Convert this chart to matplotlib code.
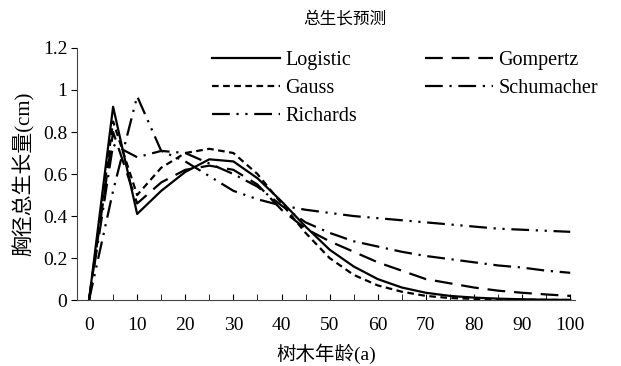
import matplotlib.pyplot as plt
from matplotlib.ticker import MultipleLocator

plt.rcParams['font.family'] = ['Liberation Serif', 'Noto Sans CJK SC']

# tree age (a), 5-year steps
age = [0, 5, 10, 15, 20, 25, 30, 35, 40, 45, 50, 55, 60, 65, 70, 75, 80, 85, 90, 95, 100]

logistic = [0, 0.92, 0.41, 0.52, 0.61, 0.67, 0.66, 0.58, 0.47, 0.35, 0.24, 0.16, 0.10, 0.06,
            0.035, 0.02, 0.012, 0.007, 0.004, 0.002, 0.001]
gompertz = [0, 0.80, 0.46, 0.56, 0.62, 0.64, 0.62, 0.55, 0.43, 0.34, 0.28, 0.23, 0.18, 0.14,
            0.10, 0.08, 0.06, 0.045, 0.035, 0.027, 0.02]
gauss = [0, 0.85, 0.50, 0.63, 0.70, 0.72, 0.70, 0.60, 0.46, 0.32, 0.20, 0.12, 0.07, 0.04,
         0.02, 0.01, 0.006, 0.003, 0.002, 0.001, 0.0005]
schumacher = [0, 0.74, 0.68, 0.71, 0.70, 0.65, 0.60, 0.54, 0.45, 0.37, 0.32, 0.28, 0.255, 0.23,
              0.21, 0.195, 0.18, 0.165, 0.155, 0.14, 0.13]
richards = [0, 0.52, 0.97, 0.71, 0.66, 0.59, 0.52, 0.48, 0.45, 0.43, 0.415, 0.40, 0.39, 0.38,
            0.37, 0.36, 0.35, 0.34, 0.335, 0.33, 0.325]

series = [
    ("Logistic", logistic, '-'),
    ("Gauss", gauss, (0, (3, 2))),
    ("Richards", richards, (0, (8, 3, 1, 3, 1, 3))),
    ("Gompertz", gompertz, (0, (8, 4))),
    ("Schumacher", schumacher, (0, (8, 3, 1, 3))),
]

fig = plt.figure(figsize=(6.21, 3.66), dpi=100)
ax = fig.add_axes([0.124, 0.180, 0.802, 0.689])

for name, vals, ls in series:
    ax.plot(age, vals, color='black', linestyle=ls, linewidth=1.6, label=name)

ax.set_xlim(-2.5, 101)
ax.set_ylim(0, 1.2)
ax.xaxis.set_major_locator(MultipleLocator(10))
ax.xaxis.set_minor_locator(MultipleLocator(5))
ax.set_yticks([0, 0.2, 0.4, 0.6, 0.8, 1.0, 1.2])
ax.set_yticklabels(['0', '0.2', '0.4', '0.6', '0.8', '1', '1.2'])
ax.tick_params(axis='x', which='both', direction='in', length=4, labelsize=14, pad=12)
ax.tick_params(axis='y', direction='out', length=4, labelsize=14, pad=3)
for s in ['top', 'right']:
    ax.spines[s].set_visible(False)
for s in ['left', 'bottom']:
    ax.spines[s].set_color('#444444')

ax.set_xlabel('树木年龄(a)', fontsize=14, labelpad=7)
ax.set_ylabel('胸径总生长量(cm)', fontsize=15, labelpad=6)
fig.text(0.555, 0.948, '总生长预测', ha='center', va='center', fontsize=12)

ax.legend(ncol=2, frameon=False, loc='upper left', bbox_to_anchor=(0.271, 0.99),
          borderpad=0, borderaxespad=0,
          handlelength=3.4, handletextpad=0.25, columnspacing=3.35, labelspacing=0.45,
          fontsize=14.5)

fig.savefig('out.png', dpi=100)
